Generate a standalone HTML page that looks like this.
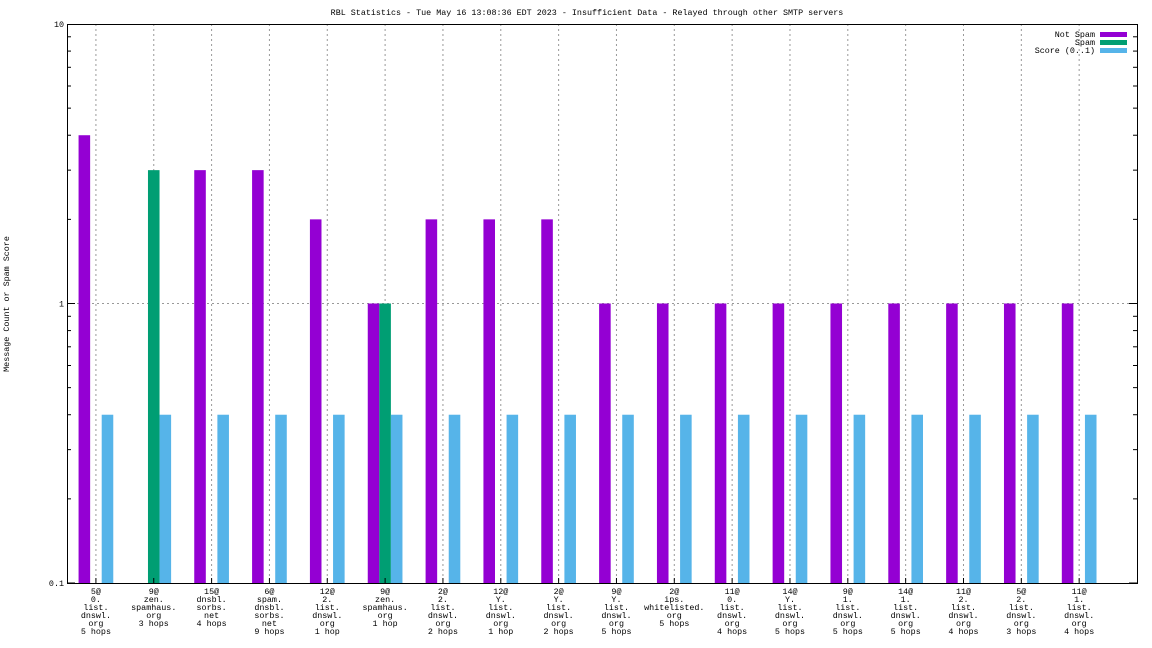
<!DOCTYPE html>
<html><head><meta charset="utf-8"><style>
body{margin:0;background:#fff;width:1152px;height:648px;overflow:hidden}
svg{display:block;font-family:"Liberation Mono","DejaVu Sans Mono",monospace}
</style></head><body>
<svg id="chart" width="1152" height="648" viewBox="0 0 1152 648">
<text x="587" y="15" font-size="8.4" text-anchor="middle">RBL Statistics - Tue May 16 13:08:36 EDT 2023 - Insufficient Data - Relayed through other SMTP servers</text>
<text transform="translate(9,304) rotate(-90)" font-size="8.4" text-anchor="middle">Message Count or Spam Score</text>
<g id="grid"></g><g id="bars"></g><g id="axes"></g>
<g font-size="8.4" text-anchor="end">
<text x="1095" y="37">Not Spam</text>
<rect x="1100" y="32" width="27" height="5" fill="#9400d3"/>
<text x="1095" y="45">Spam</text>
<rect x="1100" y="40" width="27" height="5" fill="#009e73"/>
<text x="1095" y="53">Score (0..1)</text>
<rect x="1100" y="48" width="27" height="5" fill="#56b4e9"/>
</g>
</svg>
<script>
const categories=[
["5@","0.","list.","dnswl.","org","5 hops"],
["9@","zen.","spamhaus.","org","3 hops"],
["15@","dnsbl.","sorbs.","net","4 hops"],
["6@","spam.","dnsbl.","sorbs.","net","9 hops"],
["12@","2.","list.","dnswl.","org","1 hop"],
["9@","zen.","spamhaus.","org","1 hop"],
["2@","2.","list.","dnswl.","org","2 hops"],
["12@","Y.","list.","dnswl.","org","1 hop"],
["2@","Y.","list.","dnswl.","org","2 hops"],
["9@","Y.","list.","dnswl.","org","5 hops"],
["2@","ips.","whitelisted.","org","5 hops"],
["11@","0.","list.","dnswl.","org","4 hops"],
["14@","Y.","list.","dnswl.","org","5 hops"],
["9@","1.","list.","dnswl.","org","5 hops"],
["14@","1.","list.","dnswl.","org","5 hops"],
["11@","2.","list.","dnswl.","org","4 hops"],
["5@","2.","list.","dnswl.","org","3 hops"],
["11@","1.","list.","dnswl.","org","4 hops"]];
const notSpam=[4,0,3,3,2,1,2,2,2,1,1,1,1,1,1,1,1,1];
const spam=[0,3,0,0,0,1,0,0,0,0,0,0,0,0,0,0,0,0];
const score=[0.4,0.4,0.4,0.4,0.4,0.4,0.4,0.4,0.4,0.4,0.4,0.4,0.4,0.4,0.4,0.4,0.4,0.4];
const yTicks=[0.1,1,10];
const yTickLabels=["0.1","1","10"];

const NS="http://www.w3.org/2000/svg";
const L=67,R=1137,T=24,B=583;
const xMin=-0.5,xMax=18.0;
function xs(i){return L+(i-xMin)/(xMax-xMin)*(R-L);}
function ys(v){return B-(Math.log10(v)+1)/2*(B-T);}
function mk(tag,attrs,parent){const e=document.createElementNS(NS,tag);for(const k in attrs)e.setAttribute(k,attrs[k]);parent.appendChild(e);return e;}
const grid=document.getElementById('grid'),bars=document.getElementById('bars'),axes=document.getElementById('axes');
const step=(R-L)/(xMax-xMin);
const bw=step*0.2;
categories.forEach((c,i)=>{
  const x=xs(i);
  const g=mk('line',{x1:x,x2:x,y1:T,y2:B,stroke:'#999','stroke-dasharray':'2,3','stroke-width':1},grid);
  
  
  const series=[[notSpam[i],'#9400d3',-1,'bar-not-spam'],[spam[i],'#009e73',0,'bar-spam'],[score[i],'#56b4e9',1,'bar-score']];
  series.forEach(s=>{
    if(!(s[0]>0))return;
    const y=Math.max(T,ys(s[0]));
    const r=mk('rect',{x:x+s[2]*bw-bw/2,y:y,width:bw,height:B-y,fill:s[1]},bars);
    
    
  });
  const t=mk('text',{x:x,'font-size':8.4,'text-anchor':'middle'},axes);
  
  
  c.forEach((ln,j)=>{const ts=mk('tspan',{x:x,y:594+j*8},t);ts.textContent=ln;});
  const tk=mk('line',{x1:x,x2:x,y1:B,y2:B-5,stroke:'#000'},axes);
  
  
});
const hg=mk('line',{x1:L,x2:R,y1:ys(1),y2:ys(1),stroke:'#999','stroke-dasharray':'2,3'},grid);


yTicks.forEach((v,k)=>{
  const y=ys(v);
  const t=mk('text',{x:L-3,y:y+3,'font-size':8.4,'text-anchor':'end'},axes);
  
  
  t.textContent=yTickLabels[k];
  if(k<yTicks.length-1){
    for(let m=1;m<10;m++){
      const yy=ys(v*m);const len=m===1?8:4;
      const a=mk('line',{x1:L,x2:L+len,y1:yy,y2:yy,stroke:'#000'},axes);
      
      
      const b=mk('line',{x1:R,x2:R-len,y1:yy,y2:yy,stroke:'#000'},axes);
      
      
    }
  }
});
const fr=mk('rect',{x:L+0.5,y:T+0.5,width:R-L,height:B-T,fill:'none',stroke:'#000'},axes);


</script>
</body></html>
